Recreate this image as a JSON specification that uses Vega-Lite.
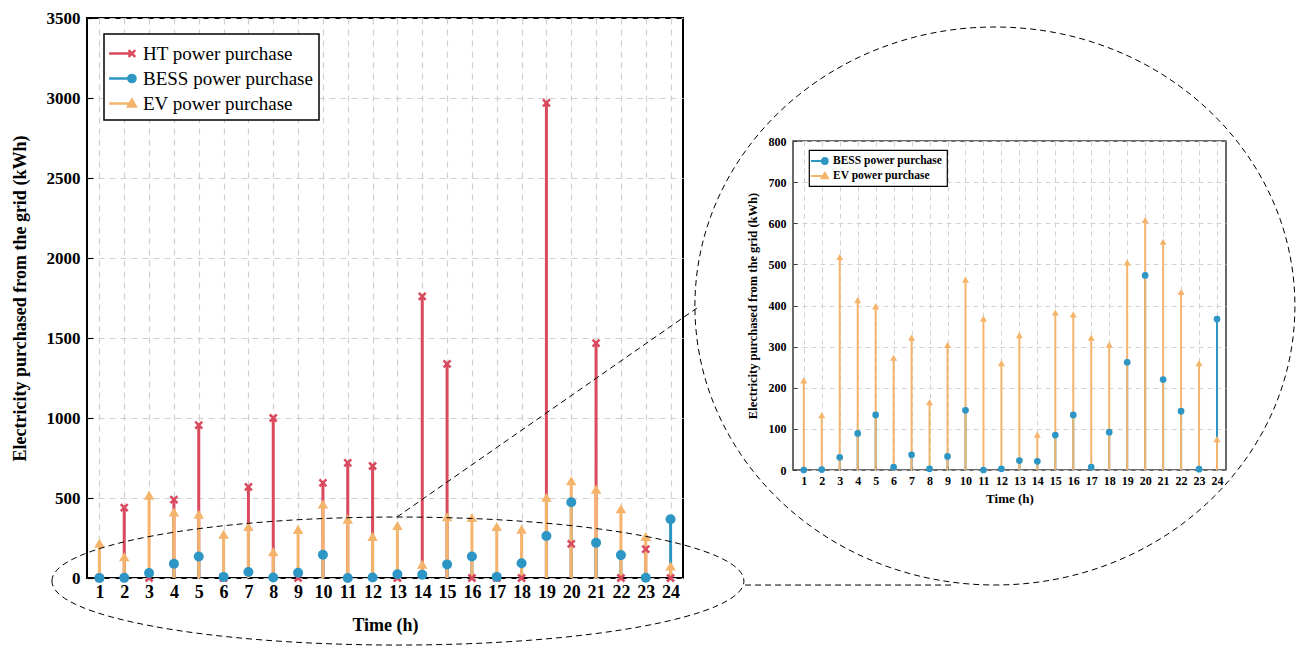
{
  "$schema": "https://vega.github.io/schema/vega-lite/v6.json",
  "background": "white",
  "padding": {"left": 10, "top": 8, "right": 0, "bottom": 0},
  "autosize": {"type": "pad"},
  "config": {"font": "Liberation Serif", "axis": {"labelOverlap": false, "labelSeparation": 0}},
  "datasets": {
    "d": [
      {"h":1,"s":"HT power purchase","v":0},{"h":2,"s":"HT power purchase","v":440},{"h":3,"s":"HT power purchase","v":0},{"h":4,"s":"HT power purchase","v":490},{"h":5,"s":"HT power purchase","v":955},{"h":6,"s":"HT power purchase","v":0},{"h":7,"s":"HT power purchase","v":570},{"h":8,"s":"HT power purchase","v":1000},{"h":9,"s":"HT power purchase","v":0},{"h":10,"s":"HT power purchase","v":595},{"h":11,"s":"HT power purchase","v":720},{"h":12,"s":"HT power purchase","v":700},{"h":13,"s":"HT power purchase","v":0},{"h":14,"s":"HT power purchase","v":1760},{"h":15,"s":"HT power purchase","v":1338},{"h":16,"s":"HT power purchase","v":0},{"h":17,"s":"HT power purchase","v":0},{"h":18,"s":"HT power purchase","v":0},{"h":19,"s":"HT power purchase","v":2970},{"h":20,"s":"HT power purchase","v":213},{"h":21,"s":"HT power purchase","v":1468},{"h":22,"s":"HT power purchase","v":0},{"h":23,"s":"HT power purchase","v":181},{"h":24,"s":"HT power purchase","v":0},
      {"h":1,"s":"BESS power purchase","v":0},{"h":2,"s":"BESS power purchase","v":1},{"h":3,"s":"BESS power purchase","v":31},{"h":4,"s":"BESS power purchase","v":89},{"h":5,"s":"BESS power purchase","v":134},{"h":6,"s":"BESS power purchase","v":7},{"h":7,"s":"BESS power purchase","v":37},{"h":8,"s":"BESS power purchase","v":3},{"h":9,"s":"BESS power purchase","v":33},{"h":10,"s":"BESS power purchase","v":145},{"h":11,"s":"BESS power purchase","v":0},{"h":12,"s":"BESS power purchase","v":3},{"h":13,"s":"BESS power purchase","v":23},{"h":14,"s":"BESS power purchase","v":21},{"h":15,"s":"BESS power purchase","v":85},{"h":16,"s":"BESS power purchase","v":134},{"h":17,"s":"BESS power purchase","v":7},{"h":18,"s":"BESS power purchase","v":92},{"h":19,"s":"BESS power purchase","v":262},{"h":20,"s":"BESS power purchase","v":473},{"h":21,"s":"BESS power purchase","v":220},{"h":22,"s":"BESS power purchase","v":143},{"h":23,"s":"BESS power purchase","v":2},{"h":24,"s":"BESS power purchase","v":367},
      {"h":1,"s":"EV power purchase","v":218},{"h":2,"s":"EV power purchase","v":133},{"h":3,"s":"EV power purchase","v":518},{"h":4,"s":"EV power purchase","v":413},{"h":5,"s":"EV power purchase","v":398},{"h":6,"s":"EV power purchase","v":273},{"h":7,"s":"EV power purchase","v":322},{"h":8,"s":"EV power purchase","v":165},{"h":9,"s":"EV power purchase","v":304},{"h":10,"s":"EV power purchase","v":463},{"h":11,"s":"EV power purchase","v":368},{"h":12,"s":"EV power purchase","v":260},{"h":13,"s":"EV power purchase","v":328},{"h":14,"s":"EV power purchase","v":86},{"h":15,"s":"EV power purchase","v":383},{"h":16,"s":"EV power purchase","v":378},{"h":17,"s":"EV power purchase","v":322},{"h":18,"s":"EV power purchase","v":305},{"h":19,"s":"EV power purchase","v":505},{"h":20,"s":"EV power purchase","v":608},{"h":21,"s":"EV power purchase","v":555},{"h":22,"s":"EV power purchase","v":433},{"h":23,"s":"EV power purchase","v":260},{"h":24,"s":"EV power purchase","v":75}
    ],
    "ell1": [{"x": 13.02, "y": -19}],
    "ell2": [{"x": 37.06, "y": 1700}],
    "ln": [{"x1": 12.98, "y1": 381, "x2": 25.06, "y2": 1687}, {"x1": 27.0, "y1": -44, "x2": 35.4, "y2": -44}]
  },
  "spacing": 110,
  "bounds": "flush",
  "resolve": {"scale": {"color": "independent"}, "legend": {"color": "independent"}},
  "hconcat": [
    {
      "width": 596,
      "height": 560,
      "view": {"stroke": "black", "strokeWidth": 2},
      "data": {"name": "d"},
      "layer": [
        {
          "mark": {"type": "rule", "strokeWidth": 3},
          "encoding": {
            "x": {"field": "h", "type": "quantitative", "scale": {"domain": [0.5, 24.5], "nice": false, "zero": false},
              "axis": {"title": "Time (h)", "values": [1,2,3,4,5,6,7,8,9,10,11,12,13,14,15,16,17,18,19,20,21,22,23,24], "tickCount": 40, "format": "d",
                "labelFont": "Liberation Serif", "labelFontSize": 18, "labelFontWeight": "bold", "labelColor": "black", "labelOverlap": false,
                "titleFont": "Liberation Serif", "titleFontSize": 18, "titleFontWeight": "bold", "titleColor": "black",
                "domain": false, "tickSize": -6, "tickColor": "black", "tickWidth": 1.2, "labelPadding": 11, "titlePadding": 15,
                "grid": true, "gridColor": "#cfcfcf", "gridDash": [6, 5], "gridWidth": 1.2, "labelFlush": false}},
            "y": {"field": "v", "type": "quantitative", "scale": {"domain": [0, 3500], "nice": false},
              "axis": {"title": "Electricity purchased from the grid (kWh)", "values": [0,500,1000,1500,2000,2500,3000,3500], "tickCount": 20, "format": "d",
                "labelFont": "Liberation Serif", "labelFontSize": 17, "labelFontWeight": "bold", "labelColor": "black", "labelOverlap": false,
                "titleFont": "Liberation Serif", "titleFontSize": 18, "titleFontWeight": "bold", "titleColor": "black",
                "domain": false, "tickSize": -6, "tickColor": "black", "tickWidth": 1.2, "labelPadding": 13, "titlePadding": 17,
                "grid": true, "gridColor": "#cfcfcf", "gridDash": [6, 5], "gridWidth": 1.2, "labelFlush": false}},
            "y2": {"datum": 0},
            "color": {"field": "s", "type": "nominal",
              "scale": {"domain": ["HT power purchase", "BESS power purchase", "EV power purchase"], "range": ["#D94A5E", "#2E96C4", "#F5B46C"]},
              "legend": {"title": null, "orient": "none", "legendX": 17, "legendY": 16, "labelLimit": 400,
                "labelFont": "Liberation Serif", "labelFontSize": 19, "labelFontWeight": "normal", "labelColor": "black",
                "symbolSize": 576, "rowPadding": 1, "padding": 6, "labelOffset": 6, "strokeColor": "black", "fillColor": "white",
                "encode": {
                  "symbols": {"update": {
                    "shape": {"signal": "datum.value === 'HT power purchase' ? 'M -1.2 0 L 0.7 0 M 0.42 -0.28 L 0.98 0.28 M 0.42 0.28 L 0.98 -0.28' : datum.value === 'BESS power purchase' ? 'M -1.2 0 L 0.5 0 M 0.4 0 A 0.3 0.3 0 1 0 1 0 A 0.3 0.3 0 1 0 0.4 0 Z' : 'M -1.2 0 L 0.5 0 M 0.7 -0.32 L 1.02 0.24 L 0.38 0.24 Z'"},
                    "fill": {"signal": "datum.value === 'HT power purchase' ? '#D94A5E' : datum.value === 'BESS power purchase' ? '#2E96C4' : '#F5B46C'"},
                    "stroke": {"signal": "datum.value === 'HT power purchase' ? '#D94A5E' : datum.value === 'BESS power purchase' ? '#2E96C4' : '#F5B46C'"},
                    "strokeWidth": {"value": 2.5},
                    "opacity": {"value": 1}
                  }},
                  "legend": {"update": {"strokeWidth": {"value": 1.5}}}
                }}}
          }
        },
        {
          "transform": [{"filter": "datum.s === 'HT power purchase'"}],
          "mark": {"type": "point", "shape": "M -1 -1 L 1 1 M -1 1 L 1 -1", "filled": false, "stroke": "#D94A5E", "strokeWidth": 2.5, "size": 49, "opacity": 1},
          "encoding": {
            "x": {"field": "h", "type": "quantitative", "scale": {"domain": [0.5, 24.5], "nice": false, "zero": false}},
            "y": {"field": "v", "type": "quantitative", "scale": {"domain": [0, 3500], "nice": false}}
          }
        },
        {
          "transform": [{"filter": "datum.s === 'BESS power purchase'"}],
          "mark": {"type": "point", "shape": "circle", "filled": true, "color": "#2E96C4", "opacity": 1, "size": 100},
          "encoding": {
            "x": {"field": "h", "type": "quantitative", "scale": {"domain": [0.5, 24.5], "nice": false, "zero": false}},
            "y": {"field": "v", "type": "quantitative", "scale": {"domain": [0, 3500], "nice": false}}
          }
        },
        {
          "transform": [{"filter": "datum.s === 'EV power purchase'"}],
          "mark": {"type": "point", "shape": "triangle-up", "filled": true, "color": "#F5B46C", "opacity": 1, "size": 110},
          "encoding": {
            "x": {"field": "h", "type": "quantitative", "scale": {"domain": [0.5, 24.5], "nice": false, "zero": false}},
            "y": {"field": "v", "type": "quantitative", "scale": {"domain": [0, 3500], "nice": false}}
          }
        },
        {
          "data": {"name": "ell1"},
          "mark": {"type": "point", "shape": "M -1 0 C -1 -0.1022 -0.5523 -0.185 0 -0.185 C 0.5523 -0.185 1 -0.1022 1 0 C 1 0.1022 0.5523 0.185 0 0.185 C -0.5523 0.185 -1 0.1022 -1 0 Z", "size": 478864, "filled": false, "stroke": "black", "strokeWidth": 1, "strokeDash": [6, 4], "opacity": 1},
          "encoding": {
            "x": {"field": "x", "type": "quantitative", "scale": {"domain": [0.5, 24.5], "nice": false, "zero": false}},
            "y": {"field": "y", "type": "quantitative", "scale": {"domain": [0, 3500], "nice": false}}
          }
        },
        {
          "data": {"name": "ell2"},
          "mark": {"type": "point", "shape": "M -1 0 C -1 -0.5136 -0.5523 -0.93 0 -0.93 C 0.5523 -0.93 1 -0.5136 1 0 C 1 0.5136 0.5523 0.93 0 0.93 C -0.5523 0.93 -1 0.5136 -1 0 Z", "size": 360000, "filled": false, "stroke": "black", "strokeWidth": 1, "strokeDash": [6, 4], "opacity": 1},
          "encoding": {
            "x": {"field": "x", "type": "quantitative", "scale": {"domain": [0.5, 24.5], "nice": false, "zero": false}},
            "y": {"field": "y", "type": "quantitative", "scale": {"domain": [0, 3500], "nice": false}}
          }
        },
        {
          "data": {"name": "ln"},
          "mark": {"type": "rule", "stroke": "black", "strokeWidth": 1, "strokeDash": [6, 4]},
          "encoding": {
            "x": {"field": "x1", "type": "quantitative", "scale": {"domain": [0.5, 24.5], "nice": false, "zero": false}},
            "y": {"field": "y1", "type": "quantitative", "scale": {"domain": [0, 3500], "nice": false}},
            "x2": {"field": "x2"},
            "y2": {"field": "y2"}
          }
        }
      ]
    },
    {
      "spacing": 0,
      "bounds": "flush",
      "resolve": {"scale": {"color": "independent"}, "legend": {"color": "independent"}},
      "vconcat": [
        {
          "width": 433,
          "height": 123,
          "data": {"values": [{}]},
          "view": {"stroke": null},
          "mark": {"type": "point", "opacity": 0},
          "encoding": {}
        },
        {
          "width": 433,
          "height": 329,
          "view": {"stroke": "#3a3a3a", "strokeWidth": 1.5},
          "data": {"name": "d"},
          "transform": [{"filter": "datum.s !== 'HT power purchase'"}],
          "layer": [
            {
              "mark": {"type": "rule", "strokeWidth": 2},
              "encoding": {
                "x": {"field": "h", "type": "quantitative", "scale": {"domain": [0.4, 24.5], "nice": false, "zero": false},
                  "axis": {"title": "Time (h)", "values": [1,2,3,4,5,6,7,8,9,10,11,12,13,14,15,16,17,18,19,20,21,22,23,24], "tickCount": 40, "format": "d",
                    "labelFont": "Liberation Serif", "labelFontSize": 12, "labelFontWeight": "bold", "labelColor": "black", "labelOverlap": false,
                    "titleFont": "Liberation Serif", "titleFontSize": 13, "titleFontWeight": "bold", "titleColor": "black",
                    "domain": false, "tickSize": -4, "tickColor": "#333", "tickWidth": 1, "labelPadding": 9, "titlePadding": 6,
                    "grid": true, "gridColor": "#d2d2d2", "gridDash": [5, 4], "gridWidth": 1, "labelFlush": false}},
                "y": {"field": "v", "type": "quantitative", "scale": {"domain": [0, 800], "nice": false},
                  "axis": {"title": "Electricity purchased from the grid (kWh)", "values": [0,100,200,300,400,500,600,700,800], "tickCount": 20, "format": "d",
                    "labelFont": "Liberation Serif", "labelFontSize": 12, "labelFontWeight": "bold", "labelColor": "black", "labelOverlap": false,
                    "titleFont": "Liberation Serif", "titleFontSize": 12.5, "titleFontWeight": "bold", "titleColor": "black",
                    "domain": false, "tickSize": -4, "tickColor": "#333", "tickWidth": 1, "labelPadding": 11, "titlePadding": 9,
                    "grid": true, "gridColor": "#d2d2d2", "gridDash": [5, 4], "gridWidth": 1, "labelFlush": false}},
                "y2": {"datum": 0},
                "color": {"field": "s", "type": "nominal",
                  "scale": {"domain": ["BESS power purchase", "EV power purchase"], "range": ["#2E96C4", "#F5B46C"]},
                  "legend": {"title": null, "orient": "none", "legendX": 16, "legendY": 9, "labelLimit": 300,
                    "labelFont": "Liberation Serif", "labelFontSize": 11.5, "labelFontWeight": "bold", "labelColor": "black",
                    "symbolSize": 144, "rowPadding": 1, "padding": 4, "labelOffset": 6, "strokeColor": "black", "fillColor": "white",
                    "encode": {
                      "symbols": {"update": {
                        "shape": {"signal": "datum.value === 'BESS power purchase' ? 'M -1.5 0 L 0.5 0 M 0.3 0 A 0.5 0.5 0 1 0 1.3 0 A 0.5 0.5 0 1 0 0.3 0 Z' : 'M -1.5 0 L 0.5 0 M 0.8 -0.55 L 1.35 0.4 L 0.25 0.4 Z'"},
                        "fill": {"signal": "datum.value === 'BESS power purchase' ? '#2E96C4' : '#F5B46C'"},
                        "stroke": {"signal": "datum.value === 'BESS power purchase' ? '#2E96C4' : '#F5B46C'"},
                        "strokeWidth": {"value": 1.8},
                        "opacity": {"value": 1}
                      }},
                      "legend": {"update": {"strokeWidth": {"value": 1.2}}}
                    }}}
              }
            },
            {
              "transform": [{"filter": "datum.s === 'BESS power purchase'"}],
              "mark": {"type": "point", "shape": "circle", "filled": true, "color": "#2E96C4", "opacity": 1, "size": 45},
              "encoding": {
                "x": {"field": "h", "type": "quantitative", "scale": {"domain": [0.4, 24.5], "nice": false, "zero": false}},
                "y": {"field": "v", "type": "quantitative", "scale": {"domain": [0, 800], "nice": false}}
              }
            },
            {
              "transform": [{"filter": "datum.s === 'EV power purchase'"}],
              "mark": {"type": "point", "shape": "triangle-up", "filled": true, "color": "#F5B46C", "opacity": 1, "size": 50},
              "encoding": {
                "x": {"field": "h", "type": "quantitative", "scale": {"domain": [0.4, 24.5], "nice": false, "zero": false}},
                "y": {"field": "v", "type": "quantitative", "scale": {"domain": [0, 800], "nice": false}}
              }
            }
          ]
        }
      ]
    }
  ]
}
